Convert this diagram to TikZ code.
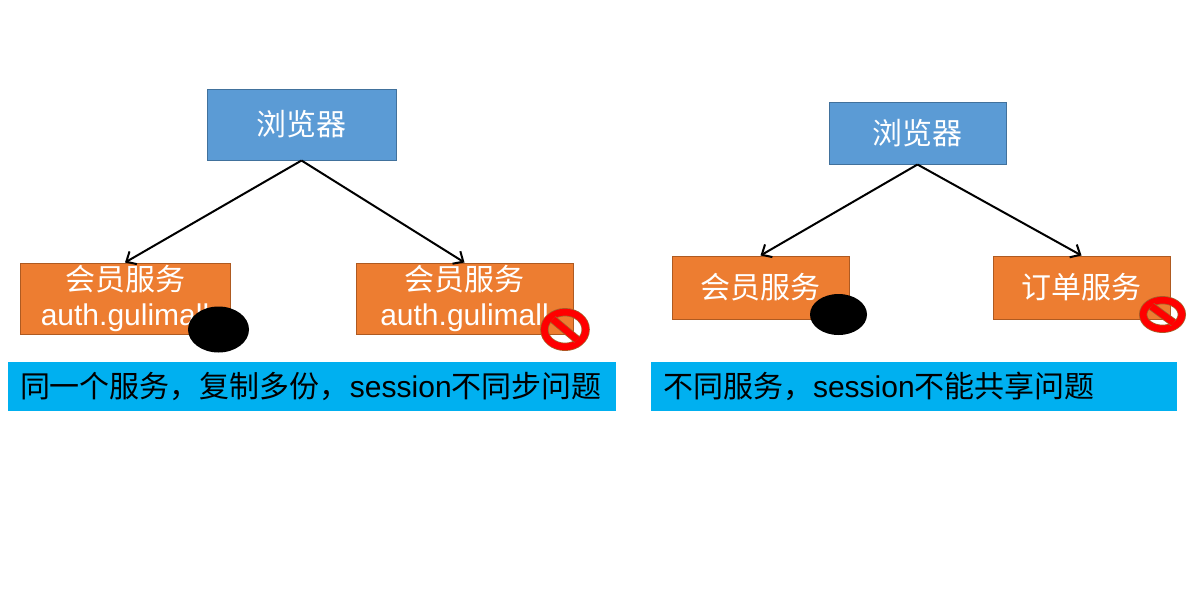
\documentclass[tikz,border=0pt]{standalone}
\usepackage{fontspec}
\setmainfont{Liberation Sans}
\newfontfamily\cjk{Noto Sans CJK SC}
\usetikzlibrary{shapes.geometric,arrows.meta}
\definecolor{boxblue}{HTML}{5B9BD5}
\definecolor{boxblueline}{HTML}{41719C}
\definecolor{boxorange}{HTML}{ED7D31}
\definecolor{boxorangeline}{HTML}{AE5A21}
\definecolor{bandblue}{HTML}{00B0F0}
\definecolor{signline}{HTML}{A8602A}

\begin{document}
\begin{tikzpicture}[
    x=0.75pt, y=-0.75pt,
    browser/.style={rectangle, fill=boxblue, draw=boxblueline, line width=0.75pt, text=white, inner sep=0pt, align=center, font=\fontsize{22.5}{26.25}\selectfont},
    service/.style={rectangle, fill=boxorange, draw=boxorangeline, line width=0.75pt, text=white, inner sep=0pt, align=center, font=\fontsize{22.5}{26.25}\selectfont},
    band/.style={rectangle, fill=bandblue, text=black, minimum height=36.75pt, inner sep=0pt, inner xsep=9pt, align=left, font=\fontsize{22.5}{26.25}\selectfont},
    blot/.style={ellipse, fill=black, inner sep=0pt},
    nosign/.style={ellipse, draw=signline, double=red, line width=0.6pt, double distance=5pt, inner sep=0pt, outer sep=0pt, minimum width=31pt, minimum height=26pt},
    signbar/.style={draw=signline, double=red, line width=0.6pt, double distance=5pt, shorten >=2.5pt, shorten <=2.5pt},
    link/.style={-{Straight Barb[length=6pt,width=11pt]}, draw, line width=1.5pt}
    ]
\useasboundingbox (0,0) rectangle (1200,615);

%left part
\node[browser, minimum width=141.75pt, minimum height=53.25pt] (browserA) at (301.5,124.5) {\cjk 浏览器};
\node[service, minimum width=157.5pt, minimum height=53.25pt] (memberA) at (125,298.5) {{\cjk 会员服务}\\auth.gulimall};
\node[service, minimum width=162.75pt, minimum height=53.25pt] (memberB) at (464.5,298.5) {{\cjk 会员服务}\\auth.gulimall};
\draw[link] (browserA.south) -- (memberA.north);
\draw[link] (browserA.south) -- (memberB.north);
\node[blot, minimum width=45.75pt, minimum height=34.5pt] (blotA) at (218.5,329.5) {};
\node[nosign] (signA) at (565,329.5) {};
\draw[signbar] (signA.north west) -- (signA.south east);
\node[band, minimum width=456pt, text width=438pt] (bandA) at (312,386.5) {{\cjk 同一个服务，复制多份，}session{\cjk 不同步问题}};

%right part
\node[browser, minimum width=132.75pt, minimum height=46.5pt] (browserB) at (917.5,133) {\cjk 浏览器};
\node[service, minimum width=132.75pt, minimum height=47.25pt] (memberC) at (760.5,287.5) {\cjk 会员服务};
\node[service, minimum width=132.75pt, minimum height=47.25pt] (orderA) at (1081.5,287.5) {\cjk 订单服务};
\draw[link] (browserB.south) -- (memberC.north);
\draw[link] (browserB.south) -- (orderA.north);
\node[blot, minimum width=42.75pt, minimum height=30.75pt] (blotB) at (838.5,314.5) {};
\node[nosign, minimum width=29pt, minimum height=21.5pt] (signB) at (1162.5,314.5) {};
\draw[signbar] (signB.north west) -- (signB.south east);
\node[band, minimum width=394.5pt, text width=376.5pt] (bandB) at (914,386.5) {{\cjk 不同服务，}session{\cjk 不能共享问题}};
\end{tikzpicture}
\end{document}
